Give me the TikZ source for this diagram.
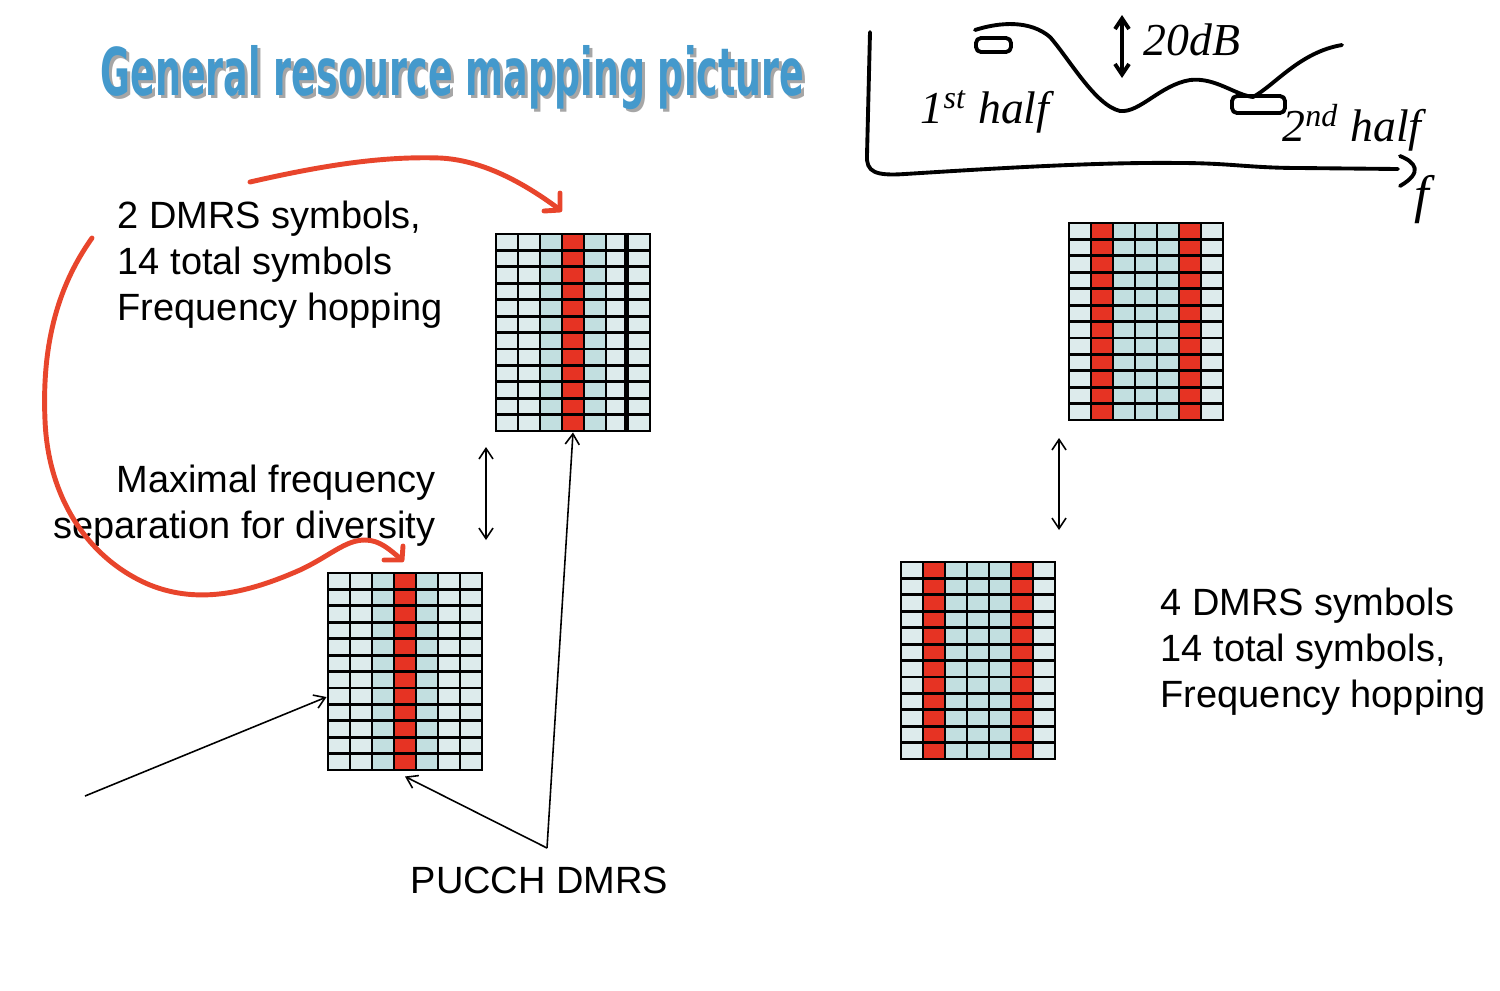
\documentclass[tikz,border=0pt]{standalone}
\usepackage{fontspec}
\setmainfont{Liberation Sans}
\newfontfamily\titlefont{DejaVu Sans}
\newfontfamily\handfont{Liberation Serif}
\usepackage{graphicx}
\usepackage{tikz}
\usetikzlibrary{calc,positioning,arrows.meta}
\usepackage{xcolor}
\definecolor{pale}{HTML}{DDEBEC}
\definecolor{mid}{HTML}{C2DFE0}
\definecolor{dmrsred}{HTML}{E63323}
\definecolor{penred}{HTML}{E8452C}
\definecolor{titleblue}{HTML}{4499CC}

\newcommand{\rmgrid}[4]{%
  \foreach \col [count=\i from 0] in {#4}
    \fill[\col] (#2+\i*22,#3) rectangle ++(22,197);
  \foreach \i in {0,...,7}
    \draw[gridline] (#2+\i*22,#3) -- ++(0,197);
  \foreach \j in {0,...,12}
    \draw[gridline] (#2,#3+\j*16.4167) -- ++(154,0);
  \node[gridbox] (#1) at (#2+77,#3+98.5) {};
}

\begin{document}
\begin{tikzpicture}[x=0.01cm, y=-0.01cm,
  >={Straight Barb[length=3pt,width=4pt]},
  gridline/.style={line width=0.8pt},
  gridbox/.style={draw, line width=0.8pt, inner sep=0pt, minimum width=1.54cm, minimum height=1.97cm},
  txt/.style={font=\fontsize{10.8}{13.1}\selectfont, inner sep=0pt, align=left},
  redpen/.style={draw=penred, line width=1.4pt, line cap=round, line join=round},
  sketch/.style={line width=1.1pt, line cap=round, line join=round},
  hand/.style={font=\handfont\itshape\fontsize{13}{15}\selectfont, inner sep=0pt}]
\useasboundingbox (0,0) rectangle (1500,990);

% title
\node[inner sep=0pt, anchor=base west, text=black!35] at (103,98)
  {\resizebox{7.03cm}{0.5cm}{\titlefont\bfseries General resource mapping picture}};
\node[inner sep=0pt, anchor=base west, text=titleblue] (title) at (100,95)
  {\resizebox{7.03cm}{0.5cm}{\titlefont\bfseries General resource mapping picture}};

% grids
\rmgrid{gA}{496}{234}{pale,pale,mid,dmrsred,mid,pale,pale}
\draw[line width=1.4pt] ($(gA.north west)+(132,0)$) -- ++(0,197);
\rmgrid{gB}{328}{573}{pale,pale,mid,dmrsred,mid,pale,pale}
\rmgrid{gC}{1069}{223}{pale,dmrsred,mid,mid,mid,dmrsred,pale}
\rmgrid{gD}{901}{562}{pale,dmrsred,mid,mid,mid,dmrsred,pale}

% texts
\node[txt, anchor=north west] (two) at (117,200)
  {2 DMRS symbols,\\14 total symbols\\Frequency hopping};
\node[txt, align=right, anchor=north east] (sep) at (436,464)
  {Maximal frequency\\separation for diversity};
\node[txt, anchor=north west] (four) at (1160,587)
  {4 DMRS symbols\\14 total symbols,\\Frequency hopping};
\node[txt, anchor=north west] (pucch) at (410,866) {PUCCH DMRS};

% arrows
\coordinate (sepA1) at (486,447);
\coordinate (sepA2) at (486,540);
\draw[<->, line width=0.45pt] (sepA1) -- (sepA2);
\coordinate (sepC1) at (1059,438);
\coordinate (sepC2) at (1059,530);
\draw[<->, line width=0.45pt] (sepC1) -- (sepC2);
\coordinate (pj) at (547,848);
\coordinate (lp) at (85,796);
\draw[->, line width=0.45pt] (pj) -- (gA.south);
\draw[->, line width=0.45pt] (pj) -- ([yshift=-0.05cm]gB.south);
\draw[->, line width=0.45pt] (lp) -- ([yshift=-0.255cm]gB.west);

% red pen
\draw[redpen] (250,182) .. controls (320,166) and (380,156) .. (440,158)
  .. controls (480,160) and (520,180) .. (559,209);
\draw[redpen] (560,193) -- (560,210) -- (544,211);
\draw[redpen] (92,238) .. controls (55,290) and (42,350) .. (45,420)
  .. controls (48,500) and (90,560) .. (150,585)
  .. controls (200,605) and (250,592) .. (300,570)
  .. controls (330,556) and (345,540) .. (365,540)
  .. controls (380,540) and (390,550) .. (401,559);
\draw[redpen] (403,546) -- (402,560) -- (384,560);

% sketch
\draw[sketch] (870,32) -- (867,155) .. controls (866,172) and (875,176) .. (905,174)
  .. controls (1000,168) and (1100,162) .. (1180,163)
  .. controls (1230,163) and (1250,168) .. (1300,168) -- (1398,169);
\draw[sketch] (1400,156) .. controls (1415,162) and (1424,172) .. (1400,186);
\draw[sketch] (975,30) .. controls (1000,22) and (1030,20) .. (1050,37)
  .. controls (1070,60) and (1095,105) .. (1120,111)
  .. controls (1140,113) and (1160,85) .. (1190,80)
  .. controls (1215,77) and (1235,95) .. (1253,97)
  .. controls (1275,85) and (1300,52) .. (1342,45);
\draw[sketch, rounded corners=0.05cm] (976,38) rectangle (1011,52);
\draw[sketch, rounded corners=0.05cm] (1232,96) rectangle (1285,113);
\draw[sketch, <->] (1122,15) -- (1122,78);
\node[hand] (half1) at (985,112) {1\textsuperscript{st} half};
\node[hand] (half2) at (1352,128) {2\textsuperscript{nd} half};
\node[hand] (db) at (1192,40) {20dB};
\node[hand, font=\handfont\itshape\fontsize{15}{17}\selectfont] (fx) at (1422,200) {f};
\end{tikzpicture}
\end{document}
